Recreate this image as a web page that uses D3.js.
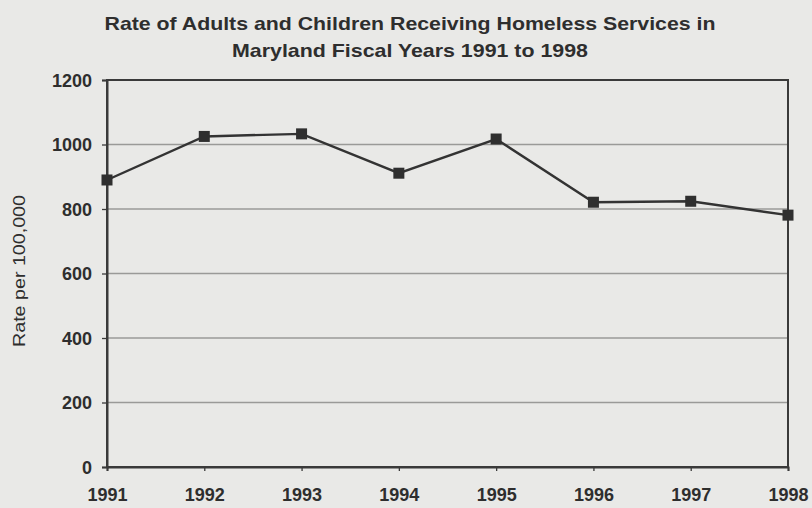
<!DOCTYPE html>
<html>
<head>
<meta charset="utf-8">
<script src="https://cdn.jsdelivr.net/npm/d3@7"></script>
<style>
  html, body { margin: 0; padding: 0; background: #e9e9e7; }
  svg { display: block; }
  text { font-family: "Liberation Sans", Arial, sans-serif; fill: #2e2e2e; }
</style>
</head>
<body>
<svg id="chart" width="812" height="508"></svg>
<script>
// Fiscal years and homeless-services rate per 100,000
const years = ["1991", "1992", "1993", "1994", "1995", "1996", "1997", "1998"];
const rates = [890, 1025, 1033, 911, 1017, 821, 824, 781];
const yTicks = [0, 200, 400, 600, 800, 1000, 1200];
const titleLines = [
  "Rate of Adults and Children Receiving Homeless Services in",
  "Maryland Fiscal Years 1991 to 1998"
];
const titleWidths = [611, 356];
const yTitle = "Rate per 100,000";

const svg = d3.select("#chart");
const W = 812, H = 508;
const m = { left: 107, right: 24, top: 80, bottom: 41 };

svg.append("rect").attr("width", W).attr("height", H).attr("fill", "#e9e9e7");

const x = d3.scalePoint().domain(years).range([m.left, W - m.right]);
const y = d3.scaleLinear().domain([0, 1200]).range([H - m.bottom, m.top]);

// horizontal gridlines
svg.append("g")
  .selectAll("line")
  .data(yTicks.filter(t => t > 0 && t < 1200))
  .join("line")
  .attr("x1", m.left).attr("x2", W - m.right)
  .attr("y1", d => y(d)).attr("y2", d => y(d))
  .attr("stroke", "#9a9a98").attr("stroke-width", 1.3);

// frame around plot area
svg.append("rect")
  .attr("x", m.left).attr("y", m.top)
  .attr("width", W - m.right - m.left).attr("height", H - m.bottom - m.top)
  .attr("fill", "none").attr("stroke", "#3a3a3a").attr("stroke-width", 2);

// y axis
const yAxis = svg.append("g")
  .attr("transform", `translate(${m.left},0)`)
  .call(d3.axisLeft(y).tickValues(yTicks).tickFormat(d3.format("d")).tickSize(5).tickPadding(10));
yAxis.select(".domain").attr("stroke", "#3a3a3a").attr("stroke-width", 2);
yAxis.selectAll(".tick line").attr("stroke", "#3a3a3a").attr("stroke-width", 1.3);
yAxis.selectAll(".tick text")
  .attr("font-size", 18).attr("font-weight", "bold")
  .attr("fill", "#2e2e2e").attr("dy", "0.35em");

// x axis
const xAxis = svg.append("g")
  .attr("transform", `translate(0,${H - m.bottom})`)
  .call(d3.axisBottom(x).tickSize(4).tickPadding(17));
xAxis.select(".domain").attr("stroke", "#3a3a3a").attr("stroke-width", 2);
xAxis.selectAll(".tick line").attr("stroke", "#3a3a3a").attr("stroke-width", 1.3);
xAxis.selectAll(".tick text")
  .attr("font-size", 18).attr("font-weight", "bold").attr("fill", "#2e2e2e");

// series line
const data = years.map((yr, i) => ({ yr, v: rates[i] }));
svg.append("path")
  .datum(data)
  .attr("fill", "none").attr("stroke", "#333").attr("stroke-width", 2.4)
  .attr("d", d3.line().x(d => x(d.yr)).y(d => y(d.v)));

// square markers
const s = 11;
svg.append("g")
  .selectAll("rect")
  .data(data)
  .join("rect")
  .attr("x", d => x(d.yr) - s / 2).attr("y", d => y(d.v) - s / 2)
  .attr("width", s).attr("height", s)
  .attr("fill", "#2f2f2f");

// title
svg.append("g")
  .selectAll("text")
  .data(titleLines)
  .join("text")
  .attr("x", 410).attr("y", (d, i) => 30 + i * 27)
  .attr("text-anchor", "middle")
  .attr("font-size", 19).attr("font-weight", "bold")
  .attr("textLength", (d, i) => titleWidths[i])
  .attr("lengthAdjust", "spacingAndGlyphs")
  .text(d => d);

// y axis title
svg.append("text")
  .attr("transform", `translate(25,271) rotate(-90)`)
  .attr("text-anchor", "middle")
  .attr("font-size", 16)
  .attr("textLength", 152)
  .attr("lengthAdjust", "spacingAndGlyphs")
  .text(yTitle);
</script>
</body>
</html>
